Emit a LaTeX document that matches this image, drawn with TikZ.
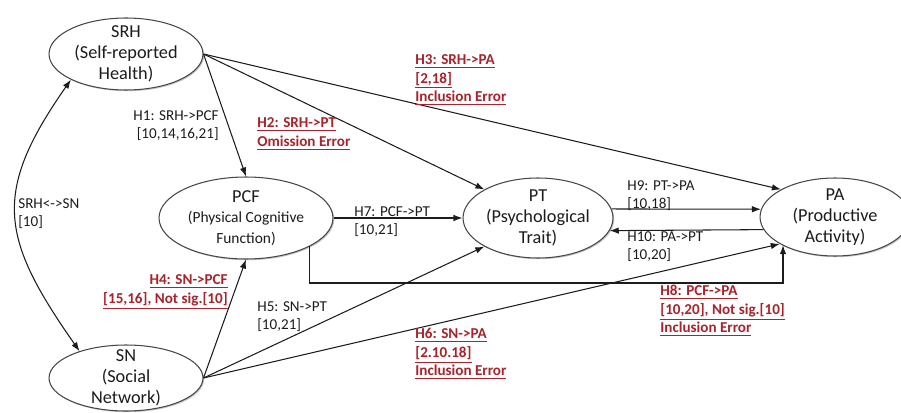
\documentclass[tikz,border=0pt]{standalone}
\usepackage{fontspec}
\setmainfont{Carlito}
\usetikzlibrary{arrows.meta,positioning,calc,shapes.geometric,shadows}
\definecolor{Ink}{HTML}{1C1C1C}
\definecolor{Rim}{HTML}{474747}
\definecolor{ErrRed}{HTML}{A8232B}
\newcommand{\subsize}{\fontsize{8.8}{10.5}\selectfont}
\tikzset{
  factorbox/.style={ellipse,draw=Rim,fill=white,line width=0.6pt,inner sep=0pt,inner xsep=-6pt,inner ysep=-8pt,align=center,text=Ink,font=\fontsize{10.4}{11.8}\selectfont,drop shadow={shadow xshift=0.7pt,shadow yshift=-0.7pt,fill=black!45}},
  hypline/.style={-{Latex[length=1.8mm,width=1.3mm]},draw=Ink,line width=0.6pt},
  hyplabel/.style={inner sep=0pt,align=left,text=Ink,font=\fontsize{8.6}{10.3}\selectfont},
  errlabel/.style={hyplabel,text=ErrRed,font=\bfseries\fontsize{8.6}{10.5}\selectfont}
}

\begin{document}
\begin{tikzpicture}[x=0.02cm,y=-0.02cm]
  \useasboundingbox (0,0) rectangle (901,412);
  % constructs
  \node[factorbox,minimum width=3.08cm,minimum height=1.44cm] (srh) at (126,54) {SRH\\(Self-reported\\Health)};
  \node[factorbox,minimum width=3.48cm,minimum height=1.64cm] (pcf) at (246,218) {PCF\\{\subsize (Physical Cognitive}\\{\subsize Function)}};
  \node[factorbox,minimum width=3.0cm,minimum height=1.6cm] (pt) at (538,218) {PT\\(Psychological\\Trait)};
  \node[factorbox,minimum width=3.0cm,minimum height=1.56cm] (pa) at (835,217) {PA\\(Productive\\Activity)};
  \node[factorbox,minimum width=3.08cm,minimum height=1.32cm] (sn) at (126,378) {SN\\(Social\\Network)};
  % hypothesised paths
  \draw[hypline,{Latex[length=1.8mm,width=1.3mm]}-{Latex[length=1.8mm,width=1.3mm]}] (srh.205) to[out=235,in=125,looseness=1.3] (sn.150);
  \draw[hypline] (srh.east) -- (pcf.north);
  \draw[hypline] (srh.east) -- (pt.152);
  \draw[hypline] (srh.east) -- (pa.153);
  \draw[hypline] (sn.east) -- (pcf.south);
  \draw[hypline] (sn.east) -- (pt.208);
  \draw[hypline] (sn.east) -- (pa.206);
  \draw[hypline] (pcf.east) -- (pt.west);
  \coordinate (h8bend) at (783,283);
  \draw[hypline] (pcf.-24) |- (h8bend) -- (h8bend |- pa.208);
  \draw[hypline] (pt.7) -- (pa.174);
  \draw[hypline] (pa.190) -- (pt.350);
  % labels
  \node[hyplabel,anchor=west] (lblcov) at (18,214) {SRH<->SN\\{}[10]};
  \node[hyplabel,align=right,anchor=east] (lblh1) at (219,126) {H1: SRH->PCF\\{}[10,14,16,21]};
  \node[errlabel,anchor=west] (lblh2) at (257,134) {\underline{H2: SRH->PT}\\\underline{Omission Error}};
  \node[errlabel,anchor=west] (lblh3) at (415,80) {\underline{H3: SRH->PA}\\\underline{[2,18]}\\\underline{Inclusion Error}};
  \node[errlabel,align=right,anchor=east] (lblh4) at (228,292) {\underline{H4: SN->PCF}\\\underline{[15,16], Not sig.[10]}};
  \node[hyplabel,anchor=west] (lblh5) at (257,317) {H5: SN->PT\\{}[10,21]};
  \node[errlabel,anchor=west] (lblh6) at (415,354) {\underline{H6: SN->PA}\\\underline{[2.10.18]}\\\underline{Inclusion Error}};
  \node[hyplabel,anchor=west] (lblh7) at (354,222) {H7: PCF->PT\\{}[10,21]};
  \node[errlabel,anchor=west] (lblh8) at (660,311) {\underline{H8: PCF->PA}\\\underline{[10,20], Not sig.[10]}\\\underline{Inclusion Error}};
  \node[hyplabel,anchor=west] (lblh9) at (627,196) {H9: PT->PA\\{}[10,18]};
  \node[hyplabel,anchor=west] (lblh10) at (627,247) {H10: PA->PT\\{}[10,20]};
\end{tikzpicture}
\end{document}
